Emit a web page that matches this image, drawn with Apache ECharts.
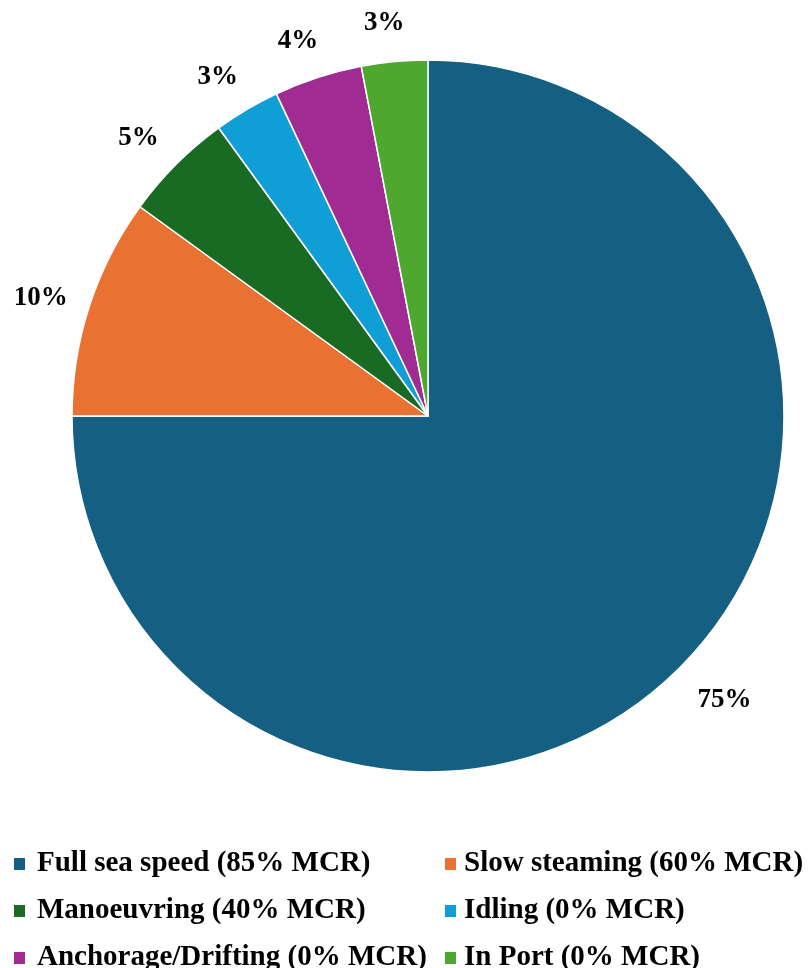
<!DOCTYPE html>
<html>
<head>
<meta charset="utf-8">
<script src="https://cdn.jsdelivr.net/npm/echarts@6/dist/echarts.min.js"></script>
<style>
  html, body { margin: 0; padding: 0; background: #ffffff; }
  #chart { width: 808px; height: 968px; }
</style>
</head>
<body>
<div id="chart"></div>
<script>
const categories = [
  'Full sea speed (85% MCR)',
  'Slow steaming (60% MCR)',
  'Manoeuvring (40% MCR)',
  'Idling (0% MCR)',
  'Anchorage/Drifting (0% MCR)',
  'In Port (0% MCR)'
];
const shares = [75, 10, 5, 3, 4, 3];
const colors = ['#156082', '#E97132', '#196B24', '#0F9ED5', '#A02B93', '#4EA72E'];
const legendLeft = [categories[0], categories[2], categories[4]];
const legendRight = [categories[1], categories[3], categories[5]];

const FONT = '"Liberation Serif", "DejaVu Serif", serif';

const pieData = categories.map((name, i) => ({
  name: name,
  value: shares[i],
  itemStyle: { color: colors[i] }
}));

// label side (left/right of the pie) derived from each slice's mid angle
const total = shares.reduce((a, b) => a + b, 0);
let cum = 0;
const labelData = categories.map((name, i) => {
  const midDeg = 90 - (cum + shares[i] / 2) / total * 360;
  cum += shares[i];
  const dx = Math.cos(midDeg * Math.PI / 180);
  return {
    name: name,
    value: shares[i],
    label: { offset: dx < 0 ? [-6, 6] : [13, 0] }
  };
});

const chart = echarts.init(document.getElementById('chart'), null, { renderer: 'canvas' });

const legendCommon = {
  orient: 'vertical',
  top: 849,
  height: 140,
  padding: 0,
  itemWidth: 13,
  itemHeight: 14,
  itemGap: 17,
  icon: 'rect',
  selectedMode: false,
  textStyle: {
    fontFamily: FONT,
    fontWeight: 'bold',
    fontSize: 29,
    lineHeight: 30,
    color: '#000000'
  }
};

chart.setOption({
  backgroundColor: '#ffffff',
  animation: false,
  legend: [
    Object.assign({}, legendCommon, {
      left: 12,
      data: legendLeft,
      textStyle: Object.assign({}, legendCommon.textStyle, { padding: [0, 0, 0, 6] })
    }),
    Object.assign({}, legendCommon, {
      left: 443,
      data: legendRight,
      textStyle: Object.assign({}, legendCommon.textStyle, { padding: [0, 0, 0, 2] })
    })
  ],
  series: [
    {
      type: 'pie',
      center: [428, 416],
      radius: [0, 356],
      startAngle: 90,
      clockwise: true,
      data: pieData,
      itemStyle: { borderColor: '#ffffff', borderWidth: 1.5 },
      label: { show: false },
      labelLine: { show: false },
      emphasis: { disabled: true }
    },
    {
      type: 'pie',
      center: [428, 416],
      radius: [356, 440],
      startAngle: 90,
      clockwise: true,
      silent: true,
      data: labelData,
      itemStyle: { color: 'rgba(0,0,0,0)', borderWidth: 0 },
      label: {
        show: true,
        position: 'inside',
        formatter: p => p.value + '%',
        fontFamily: FONT,
        fontWeight: 'bold',
        fontSize: 27,
        color: '#000000'
      },
      labelLine: { show: false },
      emphasis: { disabled: true }
    }
  ]
});
</script>
</body>
</html>
